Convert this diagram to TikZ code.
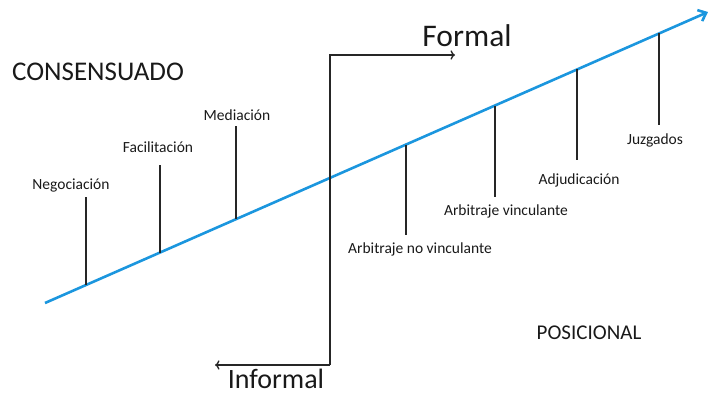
\documentclass[tikz,border=0pt]{standalone}
\usepackage{fontspec}
\setmainfont{Carlito}
\usetikzlibrary{calc,arrows.meta}
\definecolor{lineblue}{RGB}{27,150,222}
\tikzset{
    tick/.style={draw=black!85,line width=1.3pt},
    smalllabel/.style={font=\fontsize{15.5}{17}\selectfont,text=black!90,inner sep=0pt},
    biglabel/.style={font=\fontsize{31.5}{33}\selectfont,text=black!90,inner sep=0pt,anchor=base},
    sidelabel/.style={font=\fontsize{27}{29}\selectfont,text=black!90,inner sep=0pt}
}
\begin{document}
\begin{tikzpicture}[x=1pt,y=-1pt]
                \useasboundingbox (0,0) rectangle (708,393);
                \coordinate (S) at (45,303);
                \coordinate (E) at (708,12);
                \draw[lineblue,line width=2.6pt,-{Straight Barb[length=7pt,width=12pt]}] (S) -- (E);
                % points on the blue line
                \coordinate (Pneg) at (86,285);
                \coordinate (Pfac) at (160,252.5);
                \coordinate (Pmed) at (236,219);
                \coordinate (Parn) at (406,144.6);
                \coordinate (Parv) at (495,105.5);
                \coordinate (Padj) at (577,69.5);
                \coordinate (Pjuz) at (659,33.5);
                % labels
                \node[smalllabel] (neg) at (71,185) {Negociación};
                \node[smalllabel] (fac) at (158,147) {Facilitación};
                \node[smalllabel] (med) at (237,115) {Mediación};
                \node[smalllabel] (arn) at (420,249) {Arbitraje no vinculante};
                \node[smalllabel] (arv) at (506,211) {Arbitraje vinculante};
                \node[smalllabel] (adj) at (579,180) {Adjudicación};
                \node[smalllabel] (juz) at (655,140) {Juzgados};
                \draw[tick] (Pneg |- 0,197) -- (Pneg);
                \draw[tick] (Pfac |- 0,165) -- (Pfac);
                \draw[tick] (Pmed |- 0,126) -- (Pmed);
                \draw[tick] (Parn) -- (Parn |- 0,235);
                \draw[tick] (Parv) -- (Parv |- 0,197);
                \draw[tick] (Padj) -- (Padj |- 0,160);
                \draw[tick] (Pjuz) -- (Pjuz |- 0,125);
                % axis
                \coordinate (Top) at (330,55);
                \coordinate (Bot) at (330,365);
                \coordinate (Fend) at (455,55);
                \coordinate (Iend) at (215,365);
                \draw[tick,->] (Bot) -- (Top) -- (Fend);
                \draw[tick,->] (Bot) -- (Iend);
                \node[biglabel] (formal) at (467,47) {Formal};
                \node[biglabel,font=\fontsize{28}{30}\selectfont] (informal) at (276,388) {Informal};
                \node[sidelabel] (cons) at (98,72) {CONSENSUADO};
                \node[smalllabel,font=\fontsize{21}{23}\selectfont] (pos) at (589,333) {POSICIONAL};
            \end{tikzpicture}
\end{document}
